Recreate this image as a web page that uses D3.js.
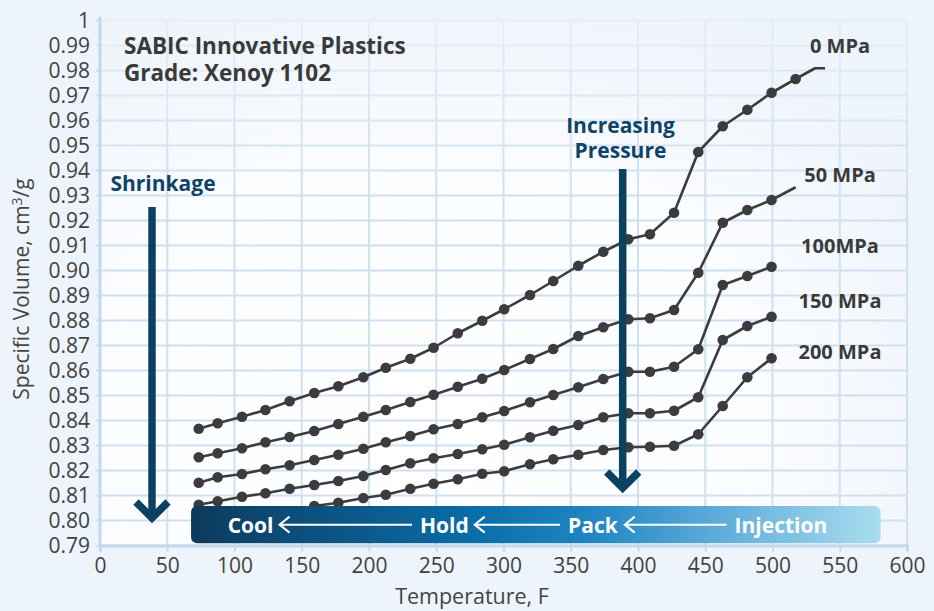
<!DOCTYPE html>
<html>
<head>
<meta charset="utf-8">
<script src="https://cdn.jsdelivr.net/npm/d3@7"></script>
<style>
  html, body { margin: 0; padding: 0; background: #eef4fb; }
  svg { display: block; font-family: "Open Sans", "Noto Sans", sans-serif; }
</style>
</head>
<body>
<svg id="chart" width="934" height="611"></svg>
<script>
// PVT data for Xenoy 1102: specific volume (cm3/g) vs temperature (F) at five pressures
const temps = [73.4, 87.5, 105.6, 123, 141, 159.3, 177.2, 195.8, 212.5, 230.7, 248, 266, 284.2,
               300.5, 319.7, 337, 355.6, 374.2, 392.8, 408.9, 426.8, 444.8, 463, 481.3, 499.3, 517.2];

const vol0 = [0.8367, 0.8389, 0.8415, 0.8442, 0.8477, 0.8510, 0.8537, 0.8573, 0.8611, 0.8647, 0.8691, 0.8749, 0.8799,
              0.8845, 0.8902, 0.8958, 0.9019, 0.9075, 0.9125, 0.9145, 0.9231, 0.9474, 0.9577, 0.9643, 0.9711, 0.9766];
const vol50 = [0.8253, 0.8269, 0.8289, 0.8313, 0.8334, 0.8358, 0.8386, 0.8415, 0.8442, 0.8474, 0.8503, 0.8535, 0.8567,
               0.8602, 0.8646, 0.8686, 0.8738, 0.8773, 0.8805, 0.8809, 0.8842, 0.8991, 0.9191, 0.9242, 0.9282, null];
const vol100 = [0.8151, 0.8173, 0.8186, 0.8205, 0.8221, 0.8242, 0.8263, 0.8287, 0.8313, 0.8338, 0.8365, 0.8386, 0.8413,
                0.8438, 0.8473, 0.8502, 0.8533, 0.8566, 0.8595, 0.8595, 0.8615, 0.8685, 0.8942, 0.8978, 0.9015, null];
const vol150 = [0.8063, 0.8077, 0.8095, 0.8109, 0.8127, 0.8142, 0.8158, 0.8178, 0.8202, 0.8229, 0.8249, 0.8266, 0.8285,
                0.8303, 0.8333, 0.8359, 0.8382, 0.8413, 0.8429, 0.8429, 0.8439, 0.8493, 0.8722, 0.8778, 0.8815, null];
const vol200 = [null, null, null, null, null, 0.8058, 0.8071, 0.8090, 0.8103, 0.8127, 0.8147, 0.8165, 0.8187,
                0.8197, 0.8225, 0.8245, 0.8263, 0.8282, 0.8293, 0.8295, 0.8299, 0.8345, 0.8458, 0.8573, 0.8649, null];

// line-only continuation past the last measured point
const tail0Temps = [531.6, 539];
const tail0Vols = [0.9809, 0.9809];
const tail50Temps = [517.2];
const tail50Vols = [0.9333];

const seriesNames = ["0 MPa", "50 MPa", "100MPa", "150 MPa", "200 MPa"];

const xTicks = [0, 50, 100, 150, 200, 250, 300, 350, 400, 450, 500, 550, 600];
const yTicks = [1, 0.99, 0.98, 0.97, 0.96, 0.95, 0.94, 0.93, 0.92, 0.91, 0.90, 0.89, 0.88,
                0.87, 0.86, 0.85, 0.84, 0.83, 0.82, 0.81, 0.80, 0.79];
const yTickLabels = ["1", "0.99", "0.98", "0.97", "0.96", "0.95", "0.94", "0.93", "0.92", "0.91", "0.90",
                     "0.89", "0.88", "0.87", "0.86", "0.85", "0.84", "0.83", "0.82", "0.81", "0.80", "0.79"];

const phases = ["Cool", "Hold", "Pack", "Injection"];
const titleLines = ["SABIC Innovative Plastics", "Grade: Xenoy 1102"];

// ---------------------------------------------------------------
const svg = d3.select("#chart");
const W = 934, H = 611;
const x = d3.scaleLinear().domain([0, 600]).range([100, 907]);
const y = d3.scaleLinear().domain([0.79, 1]).range([545.5, 20.5]);

const defs = svg.append("defs");
const glow = defs.append("radialGradient").attr("id", "plotGlow")
  .attr("gradientUnits", "userSpaceOnUse").attr("cx", 430).attr("cy", 430).attr("r", 560);
glow.append("stop").attr("offset", "0%").attr("stop-color", "#ffffff");
glow.append("stop").attr("offset", "55%").attr("stop-color", "#fcfdff");
glow.append("stop").attr("offset", "100%").attr("stop-color", "#eef4fb");

const haze = defs.append("linearGradient").attr("id", "topHaze")
  .attr("x1", 0).attr("y1", 0).attr("x2", 0).attr("y2", 1);
haze.append("stop").attr("offset", "0%").attr("stop-color", "#eef4fb").attr("stop-opacity", 0.75);
haze.append("stop").attr("offset", "100%").attr("stop-color", "#eef4fb").attr("stop-opacity", 0);

const barGrad = defs.append("linearGradient").attr("id", "phaseGrad")
  .attr("x1", 0).attr("y1", 0).attr("x2", 1).attr("y2", 0);
[["0%", "#0c3a5b"], ["12%", "#0d4a74"], ["40%", "#0a6ca6"], ["58%", "#1f86c2"],
 ["75%", "#5aa9d8"], ["100%", "#a9ddef"]].forEach(([o, c]) =>
  barGrad.append("stop").attr("offset", o).attr("stop-color", c));

// plot background
svg.append("rect").attr("width", W).attr("height", H).attr("fill", "#eef4fb");
svg.append("rect")
  .attr("x", x(0)).attr("y", y(1))
  .attr("width", x(600) - x(0)).attr("height", y(0.79) - y(1))
  .attr("fill", "url(#plotGlow)");

// grid
const grid = svg.append("g").attr("stroke", "#cfe0f1").attr("stroke-width", 2);
grid.selectAll("line.h").data(yTicks).join("line").attr("class", "h")
  .attr("x1", x(0) - 4).attr("x2", x(600)).attr("y1", d => y(d)).attr("y2", d => y(d));
grid.selectAll("line.v").data(xTicks.filter(d => d > 0)).join("line").attr("class", "v")
  .attr("x1", d => x(d)).attr("x2", d => x(d)).attr("y1", y(1)).attr("y2", y(0.79));

// fade toward the top of the plot
svg.append("rect").attr("x", x(0) + 2).attr("y", 0).attr("width", W - x(0)).attr("height", 200)
  .attr("fill", "url(#topHaze)");

// axes
const xAxis = svg.append("g").attr("transform", `translate(0,${y(0.79)})`)
  .call(d3.axisBottom(x).tickValues(xTicks).tickSize(6).tickPadding(7));
const yAxis = svg.append("g").attr("transform", `translate(${x(0)},0)`)
  .call(d3.axisLeft(y).tickValues(yTicks).tickFormat((d, i) => yTickLabels[i]).tickSize(0).tickPadding(10));
[xAxis, yAxis].forEach(a => {
  a.select(".domain").attr("stroke", "#c3d8ec").attr("stroke-width", 3);
  a.selectAll(".tick line").attr("stroke", "#c3d8ec").attr("stroke-width", 2);
  a.selectAll(".tick text").attr("fill", "#414141").style("font-size", "21px")
    .style("font-family", "\"Open Sans\", \"Noto Sans\", sans-serif");
});
yAxis.select(".domain").attr("d", `M0,${y(1) - 4}V${y(0.79) + 3}`);

// axis titles
svg.append("text").attr("x", 472).attr("y", 603.5).attr("text-anchor", "middle")
  .attr("fill", "#444").style("font-size", "21.5px").text("Temperature, F");
const yTitle = svg.append("text").attr("transform", "translate(29,289) rotate(-90)")
  .attr("text-anchor", "middle").attr("fill", "#444").style("font-size", "21px");
yTitle.append("tspan").text("Specific Volume, cm");
yTitle.append("tspan").attr("dy", -7).style("font-size", "14px").text("3");
yTitle.append("tspan").attr("dy", 7).text("/g");

// series
const allSeries = [
  { name: seriesNames[0], vals: vol0, tailT: tail0Temps, tailV: tail0Vols },
  { name: seriesNames[1], vals: vol50, tailT: tail50Temps, tailV: tail50Vols },
  { name: seriesNames[2], vals: vol100, tailT: [], tailV: [] },
  { name: seriesNames[3], vals: vol150, tailT: [], tailV: [] },
  { name: seriesNames[4], vals: vol200, tailT: [], tailV: [] }
];
const line = d3.line().defined(d => d[1] != null).x(d => x(d[0])).y(d => y(d[1]));
const seriesG = svg.append("g");
allSeries.forEach(s => {
  const pts = temps.map((t, i) => [t, s.vals[i]]).filter(d => d[1] != null);
  const linePts = pts.concat(s.tailT.map((t, i) => [t, s.tailV[i]]));
  seriesG.append("path").datum(linePts).attr("d", line)
    .attr("fill", "none").attr("stroke", "#3c3c3e").attr("stroke-width", 2.6).attr("stroke-linejoin", "round");
  seriesG.append("g").selectAll("circle").data(pts).join("circle")
    .attr("cx", d => x(d[0])).attr("cy", d => y(d[1])).attr("r", 5.3).attr("fill", "#3c3c3e");
});

// pressure labels
const labelYs = [53, 182, 253, 308, 359];
svg.append("g").selectAll("text").data(seriesNames).join("text")
  .attr("x", 840).attr("y", (d, i) => labelYs[i]).attr("text-anchor", "middle")
  .attr("fill", "#3a3a3a").style("font-size", "20px").style("font-weight", 700).text(d => d);

// title
svg.append("g").selectAll("text").data(titleLines).join("text")
  .attr("x", 124).attr("y", (d, i) => 54 + i * 27)
  .attr("fill", "#3a3a3a").style("font-size", "22.5px").style("font-weight", 700).text(d => d);

// downward arrows
const navy = "#0b4162";
function downArrow(cx, top, bottom) {
  const g = svg.append("g").attr("stroke", navy).attr("fill", "none").attr("stroke-width", 7.5);
  g.append("line").attr("x1", cx).attr("x2", cx).attr("y1", top).attr("y2", bottom - 3);
  g.append("path").attr("d", `M${cx - 16},${bottom - 18}L${cx},${bottom - 2}L${cx + 16},${bottom - 18}`);
}
downArrow(152, 207, 520);
downArrow(622.7, 169, 490);

const annot = svg.append("g").attr("fill", "#0e4467").style("font-size", "21px").style("font-weight", 700)
  .attr("text-anchor", "middle");
annot.append("text").attr("x", 163).attr("y", 191).text("Shrinkage");
annot.append("text").attr("x", 620.5).attr("y", 133).text("Increasing");
annot.append("text").attr("x", 620.5).attr("y", 158).text("Pressure");

// process phase band
const bandX0 = x(67.7), bandX1 = x(580.4);
const bandTop = y(0.8058), bandBot = y(0.7909);
svg.append("rect").attr("x", bandX0).attr("y", bandTop)
  .attr("width", bandX1 - bandX0).attr("height", bandBot - bandTop)
  .attr("rx", 6).attr("fill", "url(#phaseGrad)");
const phaseCenters = [x(112), x(256), x(366.5), x(506.3)];
const bandMid = (bandTop + bandBot) / 2;
const phaseText = svg.append("g").selectAll("text").data(phases).join("text")
  .attr("x", (d, i) => phaseCenters[i]).attr("y", bandMid + 8)
  .attr("text-anchor", "middle").attr("fill", "#ffffff")
  .style("font-size", "21px").style("font-weight", 700).text(d => d);
const boxes = phaseText.nodes().map(n => n.getBBox());
const arrows = svg.append("g").attr("stroke", "#ffffff").attr("fill", "none").attr("stroke-width", 2);
for (let i = 0; i < boxes.length - 1; i++) {
  const tip = boxes[i].x + boxes[i].width + 6;
  const tail = boxes[i + 1].x - 8;
  const ay = bandMid;
  arrows.append("line").attr("x1", tip + 1).attr("x2", tail).attr("y1", ay).attr("y2", ay);
  arrows.append("path").attr("d", `M${tip + 10},${ay - 8}L${tip},${ay}L${tip + 10},${ay + 8}`);
}
</script>
</body>
</html>
